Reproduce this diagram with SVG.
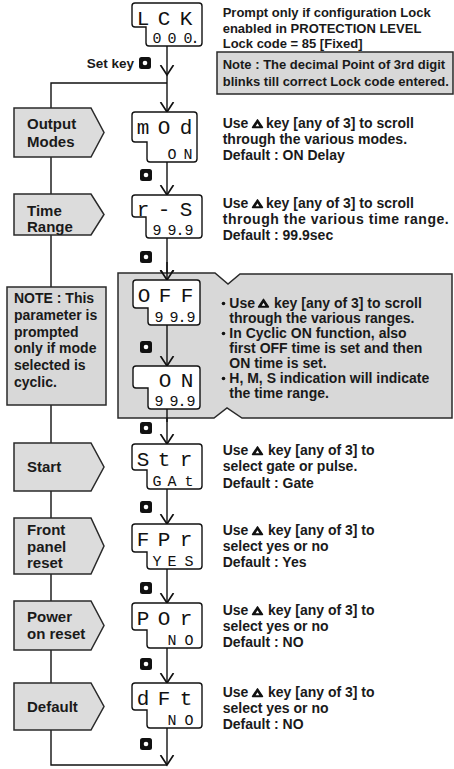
<svg xmlns="http://www.w3.org/2000/svg" width="454" height="769" viewBox="0 0 454 769">
<style>
.t{font-family:"Liberation Sans",Arial,sans-serif;font-weight:bold;font-size:14px;fill:#1a1a1a}
.s{font-size:13px}
.lb{font-family:"Liberation Sans",Arial,sans-serif;font-weight:bold;font-size:15px;fill:#1a1a1a}
.pent{fill:#dcdcdc;stroke:#2a2a2a;stroke-width:1.5}
.disp{fill:#fff;stroke:#111;stroke-width:1.4}
.d1{font-family:"Liberation Mono","DejaVu Sans Mono",monospace;font-size:21px;fill:#111;text-anchor:middle}
.d2{font-family:"Liberation Mono","DejaVu Sans Mono",monospace;font-size:15px;fill:#111;text-anchor:middle}
.ln{fill:none;stroke:#111;stroke-width:1.4}
.ar{fill:none;stroke:#111;stroke-width:1.4;marker-end:url(#v)}
.box{fill:#d8d8d8;stroke:#2a2a2a;stroke-width:1.5}
</style>
<defs>
<marker id="v" markerUnits="userSpaceOnUse" markerWidth="20" markerHeight="20" refX="10" refY="10" orient="auto">
<path d="M0,3.5 L10,10 L0,16.5" fill="none" stroke="#111" stroke-width="1.7"/>
</marker>
<g id="key"><rect x="0" y="0" width="12" height="12" rx="2.5" fill="#111"/><circle cx="6" cy="6" r="2.3" fill="#fff"/></g>
<g id="up"><path d="M5.5,0.8 L10.5,8.5 L0.5,8.5 Z" fill="#111" stroke="#111" stroke-width="1.4" stroke-linejoin="round"/><path d="M5.5,4.2 L7.3,7.3 L3.7,7.3 Z" fill="#fff"/></g>
</defs>

<g id="connectors">
<path class="ln" d="M167,83 H51 V765 H167"/>
<line class="ar" x1="167" y1="46" x2="167" y2="75"/>
<line class="ar" x1="167" y1="75" x2="167" y2="112"/>
<line class="ar" x1="167" y1="162" x2="167" y2="195"/>
<line class="ar" x1="167" y1="238" x2="167" y2="280"/>
<line class="ar" x1="167" y1="409" x2="167" y2="444"/>
<line class="ar" x1="167" y1="489" x2="167" y2="524"/>
<line class="ar" x1="167" y1="569" x2="167" y2="603"/>
<line class="ar" x1="167" y1="648" x2="167" y2="683"/>
<line class="ar" x1="167" y1="728" x2="167" y2="765"/>
</g>

<g id="lock">
<path class="disp" d="M135,3 H199 Q202,3 202,6 V43 Q202,46 199,46 H149 Q146,46 146,43 V27 H135 Q132,27 132,24 V6 Q132,3 135,3 Z"/>
<text class="d1" x="143 164 186" y="25">LCK</text>
<text class="d2" x="157 172 188 195" y="43">000.</text>
</g>
<g id="lock-text">
<text class="t s" x="222.7" y="17">Prompt only if configuration Lock</text>
<text class="t s" x="222.7" y="33">enabled in PROTECTION LEVEL</text>
<text class="t s" x="222.7" y="48">Lock code = 85 [Fixed]</text>
</g>
<g id="note-lock">
<rect class="box" x="217" y="52" width="236" height="42"/>
<text class="t s" x="222.7" y="69">Note : The decimal Point of 3rd digit</text>
<text class="t s" x="222.7" y="86">blinks till correct Lock code entered.</text>
</g>
<g id="setkey">
<text class="t" x="134" y="68" text-anchor="end" style="font-size:13.5px">Set key</text>
<use href="#key" x="139" y="57"/>
</g>

<g id="output-modes">
<polygon class="pent" points="14,108 91,108 104,132.5 91,157 14,157"/>
<text class="lb" x="27" y="129">Output</text>
<text class="lb" x="27" y="147">Modes</text>
</g>
<g id="mod">
<path class="disp" d="M135,112 H194 Q197,112 197,115 V159 Q197,162 194,162 H150 Q147,162 147,159 V142 H135 Q132,142 132,139 V115 Q132,112 135,112 Z"/>
<text class="d1" x="143 164 186" y="134">mOd</text>
<text class="d2" x="172 188" y="159">ON</text>
<text class="t" x="222.7" y="128">Use<tspan x="266">key [any of 3] to scroll</tspan></text>
<use href="#up" x="252" y="119"/>
<text class="t" x="222.7" y="144">through the various modes.</text>
<text class="t" x="222.7" y="160">Default : ON Delay</text>
<use href="#key" x="140" y="169"/>
</g>

<g id="time-range">
<polygon class="pent" points="14,194 91,194 104,214.5 91,235 14,235"/>
<text class="lb" x="27" y="216">Time</text>
<text class="lb" x="27" y="232">Range</text>
</g>
<g id="rs">
<path class="disp" d="M135,195 H199 Q202,195 202,198 V235 Q202,238 199,238 H149 Q146,238 146,235 V217 H135 Q132,217 132,214 V198 Q132,195 135,195 Z"/>
<text class="d1" x="143 164 186" y="216">r-S</text>
<text class="d2" x="157 172 180 189" y="235">99.9</text>
<text class="t" x="222.7" y="208">Use<tspan x="266">key [any of 3] to scroll</tspan></text>
<use href="#up" x="252" y="199"/>
<text class="t" x="222.7" y="224" textLength="226" lengthAdjust="spacing">through the various time range.</text>
<text class="t" x="222.7" y="240">Default : 99.9sec</text>
<use href="#key" x="140" y="251"/>
</g>

<g id="note-cyclic">
<rect class="box" x="7" y="287" width="99" height="118"/>
<text class="t" x="14" y="303">NOTE : This</text>
<text class="t" x="14" y="320">parameter is</text>
<text class="t" x="14" y="336.5">prompted</text>
<text class="t" x="14" y="353">only if mode</text>
<text class="t" x="14" y="370">selected is</text>
<text class="t" x="14" y="386.5">cyclic.</text>
</g>

<g id="cyclic-panel">
<polygon class="box" points="118,273 215,273 228,284 240,274 452,274 452,418 242,418 227,408 214,418 118,418"/>
</g>
<g id="connectors-panel">
<line class="ar" x1="167" y1="262" x2="167" y2="280"/>
<line class="ar" x1="167" y1="325" x2="167" y2="366"/>
<line class="ln" x1="167" y1="409" x2="167" y2="422"/>
</g>
<g id="off">
<path class="disp" d="M136,280 H197 Q200,280 200,283 V322 Q200,325 197,325 H151 Q148,325 148,322 V308 H136 Q133,308 133,305 V283 Q133,280 136,280 Z"/>
<text class="d1" x="144 165 187" y="302">OFF</text>
<text class="d2" x="159 174 182 191" y="322">99.9</text>
</g>
<use href="#key" x="140" y="341"/>
<g id="on">
<path class="disp" d="M136,366 H197 Q200,366 200,369 V406 Q200,409 197,409 H151 Q148,409 148,406 V388 H136 Q133,388 133,385 V369 Q133,366 136,366 Z"/>
<text class="d1" x="165 187" y="387">ON</text>
<text class="d2" x="159 174 182 191" y="406">99.9</text>
</g>
<g id="cyclic-text">
<circle cx="223.5" cy="303.5" r="1.8" fill="#111"/>
<circle cx="223.5" cy="333.5" r="1.8" fill="#111"/>
<circle cx="223.5" cy="378.5" r="1.8" fill="#111"/>
<text class="t" x="229.3" y="307.5">Use<tspan x="274">key [any of 3] to scroll</tspan></text>
<use href="#up" x="258" y="298.5"/>
<text class="t" x="229.3" y="322.5">through the various ranges.</text>
<text class="t" x="229.3" y="337.5">In Cyclic ON function, also</text>
<text class="t" x="229.3" y="352.5">first OFF time is set and then</text>
<text class="t" x="229.3" y="367.5">ON time is set.</text>
<text class="t" x="229.3" y="382.5">H, M, S indication will indicate</text>
<text class="t" x="229.3" y="397.5">the time range.</text>
</g>
<use href="#key" x="140" y="422"/>

<g id="start">
<polygon class="pent" points="14,443 91,443 104,467 91,491 14,491"/>
<text class="lb" x="27" y="472">Start</text>
</g>
<g id="str">
<path class="disp" d="M135,444 H199 Q202,444 202,447 V486 Q202,489 199,489 H150 Q147,489 147,486 V470 H135 Q132,470 132,467 V447 Q132,444 135,444 Z"/>
<text class="d1" x="143 164 186" y="466">Str</text>
<text class="d2" x="157 172 189" y="486">GAt</text>
<text class="t" x="222.7" y="455">Use<tspan x="268">key [any of 3] to</tspan></text>
<use href="#up" x="252" y="446"/>
<text class="t" x="222.7" y="471">select gate or pulse.</text>
<text class="t" x="222.7" y="488">Default : Gate</text>
<use href="#key" x="140" y="501"/>
</g>

<g id="front-panel-reset">
<polygon class="pent" points="14,518 91,518 104,546 91,574 14,574"/>
<text class="lb" x="27" y="535">Front</text>
<text class="lb" x="27" y="551.5">panel</text>
<text class="lb" x="27" y="568">reset</text>
</g>
<g id="fpr">
<path class="disp" d="M135,524 H199 Q202,524 202,527 V566 Q202,569 199,569 H150 Q147,569 147,566 V552 H135 Q132,552 132,549 V527 Q132,524 135,524 Z"/>
<text class="d1" x="143 164 186" y="546">FPr</text>
<text class="d2" x="157 172 189" y="566">YES</text>
<text class="t" x="222.7" y="535">Use<tspan x="268">key [any of 3] to</tspan></text>
<use href="#up" x="252" y="526"/>
<text class="t" x="222.7" y="551">select yes or no</text>
<text class="t" x="222.7" y="567">Default : Yes</text>
<use href="#key" x="140" y="582"/>
</g>

<g id="power-on-reset">
<polygon class="pent" points="14,601 91,601 104,625.5 91,650 14,650"/>
<text class="lb" x="27" y="622">Power</text>
<text class="lb" x="27" y="639">on reset</text>
</g>
<g id="por">
<path class="disp" d="M135,603 H199 Q202,603 202,606 V645 Q202,648 199,648 H150 Q147,648 147,645 V630 H135 Q132,630 132,627 V606 Q132,603 135,603 Z"/>
<text class="d1" x="143 164 186" y="625">POr</text>
<text class="d2" x="172 189" y="645">NO</text>
<text class="t" x="222.7" y="615">Use<tspan x="268">key [any of 3] to</tspan></text>
<use href="#up" x="252" y="606"/>
<text class="t" x="222.7" y="631">select yes or no</text>
<text class="t" x="222.7" y="647">Default : NO</text>
<use href="#key" x="140" y="658"/>
</g>

<g id="default">
<polygon class="pent" points="14,683 91,683 104,706.5 91,730 14,730"/>
<text class="lb" x="27" y="712">Default</text>
</g>
<g id="dft">
<path class="disp" d="M135,683 H199 Q202,683 202,686 V725 Q202,728 199,728 H150 Q147,728 147,725 V710 H135 Q132,710 132,707 V686 Q132,683 135,683 Z"/>
<text class="d1" x="143 164 186" y="705">dFt</text>
<text class="d2" x="172 189" y="725">NO</text>
<text class="t" x="222.7" y="697">Use<tspan x="268">key [any of 3] to</tspan></text>
<use href="#up" x="252" y="688"/>
<text class="t" x="222.7" y="713">select yes or no</text>
<text class="t" x="222.7" y="729">Default : NO</text>
<use href="#key" x="140" y="738"/>
</g>
</svg>
